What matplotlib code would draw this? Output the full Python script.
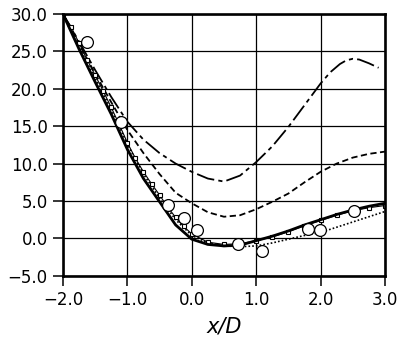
import numpy as np
import matplotlib
matplotlib.use('Agg')
import matplotlib.pyplot as plt

plt.rcParams['lines.scale_dashes'] = False

# streamwise positions of the computed profiles
x_grid = [-2.0, -1.75, -1.5, -1.25, -1.0, -0.75, -0.5, -0.25, 0.0, 0.25, 0.5,
          0.75, 1.0, 1.25, 1.5, 1.75, 2.0, 2.25, 2.5, 2.75, 3.0]

solid = [30.0, 25.3, 20.9, 16.6, 11.9, 8.0, 4.9, 1.8, -0.1, -0.8, -1.0,
         -0.9, -0.3, 0.3, 1.0, 1.8, 2.5, 3.2, 3.8, 4.3, 4.7]
short_dash = [30.0, 26.0, 22.0, 18.2, 14.5, 11.4, 8.6, 6.1, 4.7, 3.5, 2.9,
              3.1, 3.9, 4.9, 6.0, 7.5, 8.9, 10.0, 10.8, 11.3, 11.6]
dotted = [29.8, 25.6, 21.4, 17.2, 12.6, 8.6, 5.4, 2.5, 0.4, -0.6, -1.0,
          -1.1, -1.0, -0.6, -0.1, 0.4, 0.8, 1.5, 2.2, 2.9, 3.6]

x_long = [-2.0, -1.75, -1.5, -1.25, -1.0, -0.75, -0.5, -0.25, 0.0, 0.25, 0.5,
          0.75, 1.0, 1.25, 1.5, 1.75, 2.0, 2.15, 2.3, 2.4, 2.5, 2.6, 2.75, 2.9]
long_dash = [30.0, 26.3, 22.5, 18.9, 15.6, 13.2, 11.4, 10.0, 8.9, 8.0, 7.6,
             8.4, 10.2, 12.3, 14.9, 17.8, 20.7, 22.2, 23.3, 23.8, 24.0, 23.9,
             23.4, 22.8]

x_sq = [-2.0, -1.875, -1.75, -1.625, -1.5, -1.375, -1.25, -1.125, -1.0, -0.875,
        -0.75, -0.625, -0.5, -0.375, -0.25, -0.125, 0.0, 0.25, 0.5, 0.75, 1.0,
        1.25, 1.5, 1.75, 2.0, 2.25, 2.5, 2.75, 3.0]
y_sq = [30.0, 28.3, 26.1, 23.9, 21.8, 19.7, 17.5, 15.2, 12.8, 10.7, 8.9, 7.3,
        5.8, 4.2, 2.8, 1.6, 0.6, -0.5, -0.8, -0.7, -0.3, 0.2, 0.9, 1.7, 2.4,
        3.1, 3.7, 4.1, 4.4]

# measured points
x_exp = [-1.63, -1.10, -0.37, -0.12, 0.08, 0.72, 1.09, 1.80, 1.99, 2.52]
y_exp = [26.2, 15.5, 4.5, 2.7, 1.1, -0.8, -1.7, 1.2, 1.1, 3.7]

xticks = [-2.0, -1.0, 0.0, 1.0, 2.0, 3.0]
yticks = [-5.0, 0.0, 5.0, 10.0, 15.0, 20.0, 25.0, 30.0]


def fmt(v):
    # proper minus sign for the tick labels
    return ('%.1f' % v).replace('-', '\u2212')


fig = plt.figure(figsize=(4.14, 3.47), dpi=100)
ax = fig.add_axes([0.152, 0.205, 0.778, 0.755])

ax.plot(x_long, long_dash, color='black', lw=1.3, linestyle=(0, (13, 3, 3, 3)))
ax.plot(x_grid, short_dash, color='black', lw=1.3, linestyle=(0, (4.5, 2.5)))
ax.plot(x_grid, dotted, color='black', lw=1.2, linestyle=(0, (1.2, 1.5)))
ax.plot(x_sq, y_sq, color='black', lw=0.8, marker='s', markersize=3.2,
        markerfacecolor='white', markeredgecolor='black', markeredgewidth=0.8)
ax.plot(x_grid, solid, color='black', lw=2.0)
ax.plot(x_exp, y_exp, 'o', markersize=8.5, markerfacecolor='white',
        markeredgecolor='black', markeredgewidth=0.9, linestyle='none')

ax.set_xlim(-2.0, 3.0)
ax.set_ylim(-5.0, 30.0)
ax.set_xticks(xticks)
ax.set_yticks(yticks)
ax.set_xticklabels([fmt(t) for t in xticks])
ax.set_yticklabels([fmt(t) for t in yticks])
ax.grid(True, color='black', lw=0.9)
ax.set_axisbelow(True)
for s in ax.spines.values():
    s.set_linewidth(1.9)
ax.tick_params(direction='out', length=7, width=1.1, labelsize=12, pad=4)
ax.set_xlabel('x/D', fontsize=15, style='italic', labelpad=5)

plt.savefig('out.png', dpi=100)
